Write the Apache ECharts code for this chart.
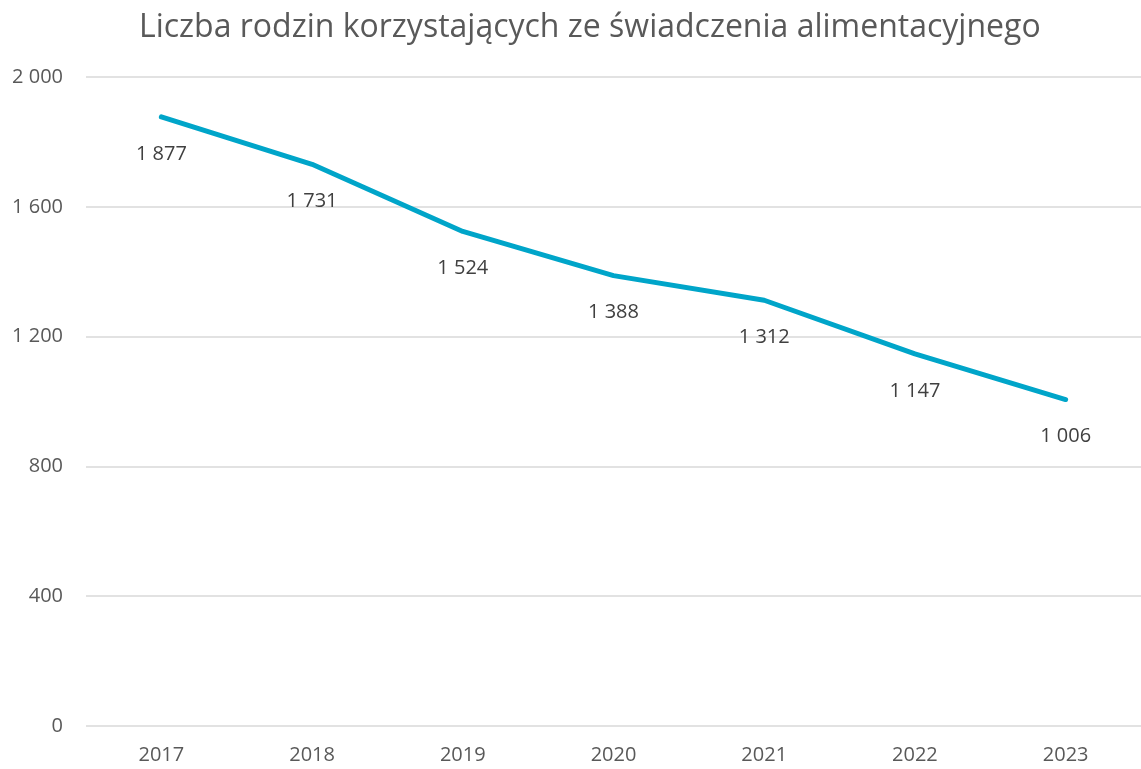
<!DOCTYPE html>
<html>
<head>
<meta charset="utf-8">
<script src="https://cdn.jsdelivr.net/npm/echarts@6/dist/echarts.min.js"></script>
<style>
html,body{margin:0;padding:0;background:#fff;}
#chart{width:1141px;height:769px;}
</style>
</head>
<body>
<div id="chart"></div>
<script>
// dane
var years=['2017','2018','2019','2020','2021','2022','2023'];
var families=[1877,1731,1524,1388,1312,1147,1006];
var yTicks=[0,400,800,1200,1600,2000];

function fmt(v){
	return String(v).replace(/\B(?=(\d{3})+(?!\d))/g,' ');
}

var myChart=echarts.init(document.getElementById('chart'));
var option={
	backgroundColor:'#fff',
	textStyle:{fontFamily:'Open Sans'},
	title:{
		text:'Liczba rodzin korzystających ze świadczenia alimentacyjnego',
		left:134,
		top:7,
		textStyle:{fontFamily:'Open Sans',fontSize:32,fontWeight:'normal',color:'#595959'}
	},
	grid:{left:86,top:77,width:1062,height:649},
	xAxis:{
		type:'category',
		data:years,
		boundaryGap:true,
		axisLine:{show:false},
		axisTick:{show:false},
		axisLabel:{color:'#595959',fontSize:20,margin:19}
	},
	yAxis:{
		type:'value',
		min:yTicks[0],
		max:yTicks[yTicks.length-1],
		interval:400,
		axisLine:{show:false},
		axisTick:{show:false},
		splitLine:{lineStyle:{color:'#d9d9d9',width:1.5}},
		axisLabel:{color:'#595959',fontSize:20,margin:23,formatter:fmt}
	},
	series:[{
		type:'line',
		data:families,
		symbol:'circle',
		symbolSize:2,
		itemStyle:{color:'rgba(0,0,0,0)',borderWidth:0},
		lineStyle:{color:'#00a5c9',width:5,cap:'round',join:'round'},
		label:{
			show:true,
			position:'bottom',
			distance:26,
			color:'#404040',
			fontSize:20,
			formatter:function(p){return fmt(p.value);}
		},
		animation:false
	}]
};
myChart.setOption(option);
</script>
</body>
</html>
